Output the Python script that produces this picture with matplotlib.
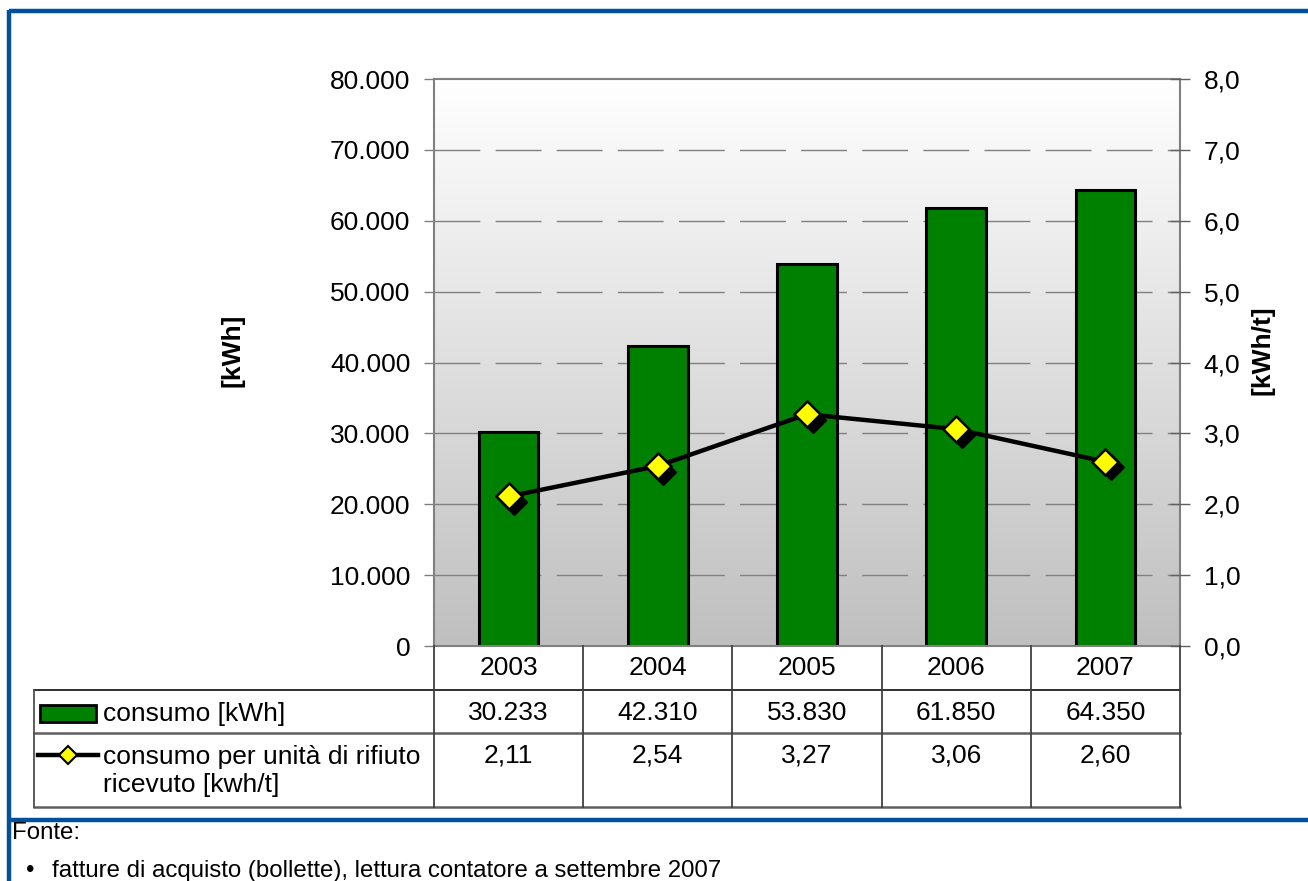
import numpy as np
import matplotlib
matplotlib.use("Agg")
import matplotlib.pyplot as plt
import matplotlib.transforms as mtransforms
from matplotlib.lines import Line2D
from matplotlib.patches import Rectangle

plt.rcParams['font.family'] = ['Liberation Sans', 'DejaVu Sans']

years = ["2003", "2004", "2005", "2006", "2007"]
consumo_kwh = [30233, 42310, 53830, 61850, 64350]
consumo_per_t = [2.11, 2.54, 3.27, 3.06, 2.60]
left_ticks = [0, 10000, 20000, 30000, 40000, 50000, 60000, 70000, 80000]
right_ticks = [0.0, 1.0, 2.0, 3.0, 4.0, 5.0, 6.0, 7.0, 8.0]
label_bar = "consumo [kWh]"
label_line = "consumo per unità di rifiuto\nricevuto [kwh/t]"
source_title = "Fonte:"
source_item = "fatture di acquisto (bollette), lettura contatore a settembre 2007"


def it_int(v):
    return f"{v:,.0f}".replace(",", ".")


def it_dec(v, nd):
    return f"{v:.{nd}f}".replace(".", ",")


W, H = 1308, 881
fig = plt.figure(figsize=(W / 100, H / 100), dpi=100)
FS = 19


def px(x0, y0, x1, y1):
    """Figure rectangle from pixel box (top-left origin)."""
    return [x0 / W, 1 - y1 / H, (x1 - x0) / W, (y1 - y0) / H]


# Plot area
PX0, PY0, PX1, PY1 = 434, 79, 1180, 646
ax = fig.add_axes(px(PX0, PY0, PX1, PY1))
x = np.arange(len(years))
ax.set_xlim(-0.5, len(years) - 0.5)
ax.set_ylim(0, 80000)

# Vertical gradient background
grad = np.linspace(1.0, 0.0, 256).reshape(-1, 1)
top_c = np.array([1.0, 1.0, 1.0])
bot_c = np.array([0.75, 0.75, 0.75])
img = grad[..., None] * top_c + (1 - grad[..., None]) * bot_c
ax.imshow(img, extent=(-0.5, len(years) - 0.5, 0, 80000), aspect='auto', zorder=0)

# Dashed gridlines
for t in left_ticks[1:-1]:
    ax.axhline(t, color='#808080', lw=1.0, linestyle=(0, (33, 11)), zorder=1)

ax.bar(x, consumo_kwh, width=0.4, color='#008000', edgecolor='black', linewidth=2.2, zorder=2)

ax.set_yticks(left_ticks)
ax.set_yticklabels([it_int(v) for v in left_ticks], fontsize=FS)
ax.set_xticks([])
ax.tick_params(axis='y', direction='out', length=7, width=1, color='#808080', pad=10)
for s in ax.spines.values():
    s.set_color('#808080')
    s.set_linewidth(1.5)

ax2 = ax.twinx()
ax2.set_ylim(0, 8)
ax2.set_yticks(right_ticks)
ax2.set_yticklabels([it_dec(v, 1) for v in right_ticks], fontsize=FS)
ax2.tick_params(axis='y', direction='inout', length=14, width=1, color='#606060', pad=10)
for s in ax2.spines.values():
    s.set_visible(False)

# Axis titles
fig.text(232 / W, 1 - 350 / H, "[kWh]", rotation=90, ha='center', va='center',
         fontsize=FS, fontweight='bold')
fig.text(1262 / W, 1 - 350 / H, "[kWh/t]", rotation=90, ha='center', va='center',
         fontsize=FS, fontweight='bold')

# Line with dropped-shadow markers
shadow_tr = mtransforms.offset_copy(ax2.transData, fig=fig, x=4, y=-4, units='points')
ax2.plot(x, consumo_per_t, linestyle='none', marker='D', ms=13, mfc='black', mec='black',
         transform=shadow_tr, zorder=3)
ax2.plot(x, consumo_per_t, color='black', lw=3.2, zorder=4)
ax2.plot(x, consumo_per_t, linestyle='none', marker='D', ms=13, mfc='#FFFF00', mec='black',
         mew=1.8, zorder=5)

# Data table below the plot
TX0 = 34
rows_y = [646, 690, 733, 807]
col_x = np.linspace(PX0, PX1, len(years) + 1)
tab = fig.add_axes([0, 0, 1, 1], facecolor='none')
tab.set_xlim(0, W)
tab.set_ylim(H, 0)
tab.axis('off')
lc = '#202020'
lw_t = 1.3
tab.plot([TX0, PX1], [rows_y[1]] * 2, color=lc, lw=lw_t)
tab.plot([TX0, PX1], [rows_y[2]] * 2, color='#606060', lw=lw_t + 0.5)
tab.plot([TX0, PX1], [rows_y[3]] * 2, color='#606060', lw=lw_t + 0.5)
for cx in col_x:
    tab.plot([cx, cx], [rows_y[0], rows_y[3]], color='#404040', lw=lw_t)
tab.plot([TX0, TX0], [rows_y[1], rows_y[3]], color='#505050', lw=lw_t)

centers = (col_x[:-1] + col_x[1:]) / 2
for cx, yr, v1, v2 in zip(centers, years, consumo_kwh, consumo_per_t):
    tab.text(cx, 668, yr, ha='center', va='center', fontsize=FS)
    tab.text(cx, 713, it_int(v1), ha='center', va='center', fontsize=FS)
    tab.text(cx, 755, it_dec(v2, 2), ha='center', va='center', fontsize=FS)

# Legend keys inside the table
tab.add_patch(Rectangle((40, 705), 56, 17, facecolor='#008000', edgecolor='black', lw=2))
tab.text(103, 714, label_bar, ha='left', va='center', fontsize=FS)
tab.add_line(Line2D([38, 98], [755, 755], color='black', lw=3.2))
tab.add_line(Line2D([68], [755], marker='D', ms=9, mfc='#FFFF00', mec='black', mew=1.5))
tab.text(103, 771, label_line, ha='left', va='center', fontsize=FS, linespacing=1.2)

# Blue frame lines
blue = '#00509A'
tab.plot([9, W], [11, 11], color=blue, lw=3.2, solid_capstyle='butt')
tab.plot([9, W], [820, 820], color=blue, lw=3.2, solid_capstyle='butt')
tab.plot([9, 9], [9.5, H], color=blue, lw=3.2, solid_capstyle='butt')

# Source notes
tab.text(12, 833, source_title, ha='left', va='center', fontsize=17.3)
tab.text(26, 871, "•", ha='left', va='center', fontsize=17.3)
tab.text(52, 871, source_item, ha='left', va='center', fontsize=17.3)

fig.savefig("out.png", dpi=100)
